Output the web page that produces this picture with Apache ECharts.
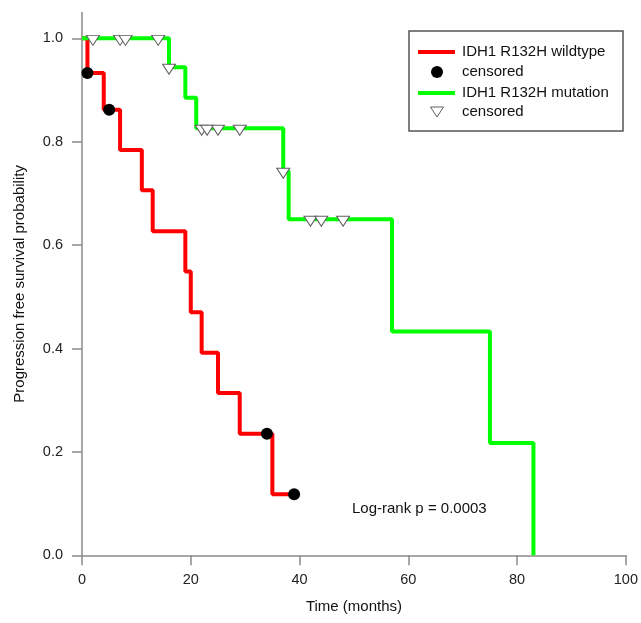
<!DOCTYPE html>
<html>
<head>
<meta charset="utf-8">
<script src="https://cdn.jsdelivr.net/npm/echarts@6/dist/echarts.min.js"></script>
<style>
html,body{margin:0;padding:0;background:#fff;}
#chart{width:641px;height:623px;}
</style>
</head>
<body>
<div id="chart"></div>
<script>
// Kaplan-Meier step points [time (months), survival probability]
const wildtypeSteps = [[0,1.0],[1,0.933],[4,0.862],[7,0.784],[11,0.706],[13,0.627],[19,0.549],[20,0.470],[22,0.392],[25,0.314],[29,0.235],[35,0.118],[39,0.118]];
const wildtypeCensored = [[1,0.933],[5,0.862],[34,0.235],[39,0.118]];
const mutationSteps = [[0,1.0],[16,0.944],[19,0.885],[21,0.826],[37,0.743],[38,0.650],[57,0.433],[75,0.217],[83,0.0]];
const mutationCensored = [[2,1.0],[7,1.0],[8,1.0],[14,1.0],[16,0.944],[22,0.826],[23,0.826],[25,0.826],[29,0.826],[37,0.743],[42,0.650],[44,0.650],[48,0.650]];
const xTickValues = [0,20,40,60,80,100];
const yTickValues = [0,0.2,0.4,0.6,0.8,1.0];
const legendLabels = ['IDH1 R132H wildtype','censored','IDH1 R132H mutation','censored'];
const pValueText = 'Log-rank p = 0.0003';
const xAxisTitle = 'Time (months)';
const yAxisTitle = 'Progression free survival probability';

const FONT = '"Liberation Sans", Arial, sans-serif';
const chart = echarts.init(document.getElementById('chart'), null, {renderer:'canvas'});

const axisCommon = {
  axisLine:{show:true, lineStyle:{color:'#8a8a8a', width:1.5}},
  axisTick:{show:true, length:10, inside:false, lineStyle:{color:'#8a8a8a', width:1.5}},
  splitLine:{show:false},
  nameTextStyle:{fontFamily:FONT, fontSize:15, color:'#111'}
};

chart.setOption({
  animation:false,
  backgroundColor:'#fff',
  grid:{left:82, right:14, top:12.5, bottom:67.7, containLabel:false},
  xAxis:Object.assign({}, axisCommon, {
    type:'value', min:0, max:100, interval:20,
    name:xAxisTitle, nameLocation:'middle', nameGap:44,
    axisTick:Object.assign({}, axisCommon.axisTick, {customValues:xTickValues}),
    axisLabel:{customValues:xTickValues, margin:17, fontFamily:FONT, fontSize:14.5, color:'#222'}
  }),
  yAxis:Object.assign({}, axisCommon, {
    type:'value', min:0, max:1.05,
    name:yAxisTitle, nameLocation:'middle', nameGap:55,
    axisTick:Object.assign({}, axisCommon.axisTick, {customValues:yTickValues}),
    axisLabel:{customValues:yTickValues, margin:19, fontFamily:FONT, fontSize:14.5, color:'#222',
      formatter:function(v){return Number(v).toFixed(1);}}
  }),
  series:[
    {type:'line', name:legendLabels[0], data:wildtypeSteps, step:'end', symbol:'none',
     lineStyle:{color:'#ff0000', width:4}, z:2},
    {type:'line', name:legendLabels[2], data:mutationSteps, step:'end', symbol:'none',
     lineStyle:{color:'#00ff00', width:4}, z:3},
    {type:'scatter', name:'censored wt', data:wildtypeCensored, symbol:'circle', symbolSize:12,
     itemStyle:{color:'#000', opacity:1}, z:4},
    {type:'scatter', name:'censored mut', data:mutationCensored,
     symbol:'path://M0,0 L13,0 L6.5,10 Z', symbolSize:[13,10], symbolOffset:[0,2],
     itemStyle:{color:'#fff', borderColor:'#606060', borderWidth:1, opacity:1}, z:5}
  ],
  graphic:[
    {type:'rect', shape:{x:409, y:31, width:214, height:100},
     style:{fill:'#fff', stroke:'#555', lineWidth:1.5}, z:10},
    {type:'line', shape:{x1:418, y1:52, x2:455, y2:52}, style:{stroke:'#ff0000', lineWidth:4}, z:11},
    {type:'circle', shape:{cx:437, cy:72, r:6}, style:{fill:'#000'}, z:11},
    {type:'line', shape:{x1:418, y1:93, x2:455, y2:93}, style:{stroke:'#00ff00', lineWidth:4}, z:11},
    {type:'polygon', shape:{points:[[430.5,107],[443.5,107],[437,117]]},
     style:{fill:'#fff', stroke:'#606060', lineWidth:1}, z:11},
    {type:'text', x:462, y:52, style:{text:legendLabels[0], font:'15px '+FONT, fill:'#111', verticalAlign:'middle'}, z:11},
    {type:'text', x:462, y:72, style:{text:legendLabels[1], font:'15px '+FONT, fill:'#111', verticalAlign:'middle'}, z:11},
    {type:'text', x:462, y:93, style:{text:legendLabels[2], font:'15px '+FONT, fill:'#111', verticalAlign:'middle'}, z:11},
    {type:'text', x:462, y:112, style:{text:legendLabels[3], font:'15px '+FONT, fill:'#111', verticalAlign:'middle'}, z:11},
    {type:'text', x:352, y:509, style:{text:pValueText, font:'15px '+FONT, fill:'#111', verticalAlign:'middle'}, z:11}
  ]
});
</script>
</body>
</html>
